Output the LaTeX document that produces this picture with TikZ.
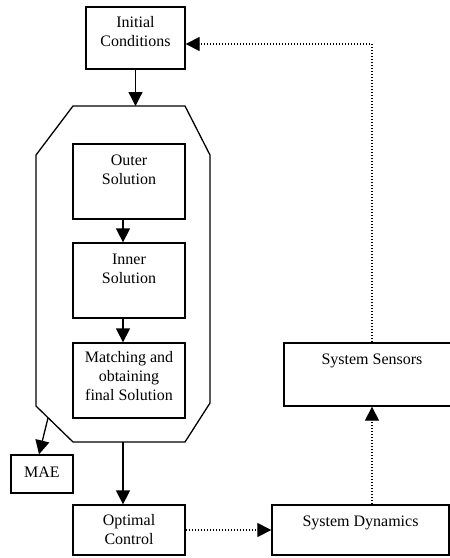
\documentclass[tikz,border=0pt]{standalone}
\usepackage{fontspec}
\setmainfont{Liberation Serif}
\usetikzlibrary{positioning,arrows.meta}
\tikzset{
  blk/.style 2 args={draw=black,line width=1.3pt,inner sep=0pt,minimum width=#1,minimum height=#2},
  lbl/.style={align=center,inner sep=0pt,font=\fontsize{16}{19}\selectfont},
  flow/.style={draw=black,line width=1.3pt,-{Triangle[length=14pt,width=14pt]}},
  sig/.style={draw=black,line width=1.2pt,dash pattern=on 1.2pt off 1.8pt,
    -{Triangle[length=14pt,width=14pt]}},
}

\begin{document}
\begin{tikzpicture}[x=1pt,y=-1pt]
\clip (0,0) rectangle (450,558);
% boxes
\node[blk={99pt}{62pt}] (ic) at (135.5,38) {};
\node[blk={112pt}{75pt}] (outer) at (129,181.5) {};
\node[blk={112pt}{75pt}] (inner) at (129,280.5) {};
\node[blk={112pt}{75pt}] (match) at (129,380.5) {};
\node[blk={62pt}{38pt}] (mae) at (42,474) {};
\node[blk={112pt}{50pt}] (oc) at (129,530) {};
\node[blk={177pt}{50pt}] (sd) at (360.5,530) {};
\node[blk={176pt}{63pt}] (ss) at (372,374.5) {};
% texts
\node[lbl,below=10pt of ic.north] (ic-t) {Initial\\Conditions};
\node[lbl,below=11pt of outer.north] (outer-t) {Outer\\Solution};
\node[lbl,below=11pt of inner.north] (inner-t) {Inner\\Solution};
\node[lbl,below=9pt of match.north] (match-t) {Matching and\\obtaining\\final Solution};
\node[lbl,below=12pt of mae.north] (mae-t) {MAE};
\node[lbl,below=10pt of oc.north] (oc-t) {Optimal\\Control};
\node[lbl,below=11pt of sd.north] (sd-t) {System Dynamics};
\node[lbl,below=11pt of ss.north] (ss-t) {System Sensors};
% octagon round the solution steps
\draw[line width=1.3pt] (73,106) -- (185,106) -- (210,155) -- (210,403)
  -- (185,442) -- (73,442) -- (36,406) -- (36,155) -- cycle;
\coordinate (oct-in) at (135.5,106);
\coordinate (oct-out) at (123,442);
\coordinate (oct-mae) at (48,418);
% solid arrows
\draw[flow] (ic) -- (oct-in);
\draw[flow] ([xshift=-6pt]outer.south) -- ([xshift=-6pt]inner.north);
\draw[flow] ([xshift=-6pt]inner.south) -- ([xshift=-6pt]match.north);
\draw[flow] (oct-mae) -- ([xshift=-3pt]mae.north);
\draw[flow] (oct-out) -- (oct-out |- oc.north);
% dotted loop
\draw[sig] (oc.east) -- (sd.west);
\draw[sig] (sd.north -| ss.south) -- (ss.south);
\draw[sig] (ss.north) |- ([yshift=-6pt]ic.east);
\end{tikzpicture}
\end{document}
